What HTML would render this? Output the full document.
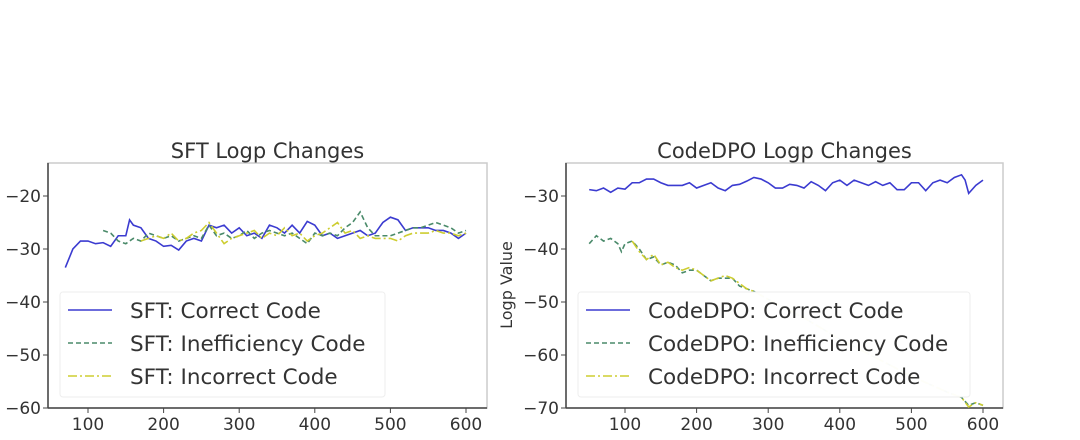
<!DOCTYPE html>
<html><head><meta charset="utf-8"><style>
body{margin:0;background:#fff;width:1080px;height:435px;overflow:hidden;font-family:"Liberation Sans","DejaVu Sans",sans-serif}
svg text{font-family:"DejaVu Sans","Liberation Sans",sans-serif;fill:#333}
</style></head><body>
<svg id="c" width="1080" height="435"></svg>
<script>
const sftX1=[70,80,90,100,110,120,130,140,150,155,160,170,180,190,200,210,220,230,240,250,260,270,280,290,300,310,320,330,340,350,360,370,380,390,400,410,420,430,440,450,460,470,480,490,500,510,520,530,540,550,560,570,580,590,600];
const sftCorrect=[-33.5,-30,-28.5,-28.5,-29,-28.8,-29.5,-27.5,-27.5,-24.5,-25.5,-26,-28,-28.5,-29.5,-29.3,-30.2,-28.5,-28,-28.5,-25.5,-26,-25.5,-27,-26,-27.5,-27,-28,-25.5,-26,-27,-25.5,-27,-24.8,-25.5,-27.5,-27,-28,-27.5,-27,-26.5,-27.5,-27,-25,-24,-24.5,-26.5,-26,-26,-26,-26.5,-26.5,-27,-28,-27];
const sftX2=[120,130,140,150,160,170,180,190,200,210,220,230,240,250,260,270,280,290,300,310,320,330,340,350,360,370,380,390,400,410,420,430,440,450,460,470,480,490,500,510,520,530,540,550,560,570,580,590,600];
const sftIneff=[-26.5,-27,-28.5,-29,-28,-28.5,-27,-27.5,-28,-27.5,-28.5,-28,-27.5,-28,-25.5,-27.5,-27,-28,-27.5,-26.5,-28,-27,-26.5,-27,-27.5,-27,-28,-29,-27,-27.5,-27,-27.5,-26,-25,-23,-26,-27.5,-27.5,-27.5,-27,-26.5,-26,-26,-25.5,-25,-25.5,-26,-27,-26.5];
const sftX3=[170,180,190,200,210,220,230,240,250,260,270,280,290,300,310,320,330,340,350,360,370,380,390,400,410,420,430,440,450,460,470,480,490,500,510,520,530,540,550,560,570,580,590,600];
const sftIncorrect=[-28.5,-28,-27.5,-28,-27,-28.5,-28,-27,-26.5,-25,-27,-29,-28,-27.5,-27,-26.5,-28,-27,-27.5,-26,-27.5,-27,-28.5,-27.5,-27,-26,-25,-27,-26.5,-28,-27.5,-28,-28,-28,-28.5,-27.5,-27,-27,-27,-26.5,-27,-27,-27.5,-27];
const dpoX1=[50,60,70,80,90,100,110,120,130,140,150,160,170,180,190,200,210,220,230,240,250,260,270,280,290,300,310,320,330,340,350,360,370,380,390,400,410,420,430,440,450,460,470,480,490,500,510,520,530,540,550,560,570,575,580,590,600];
const dpoCorrect=[-28.8,-29,-28.5,-29.3,-28.5,-28.7,-27.5,-27.5,-26.8,-26.8,-27.5,-28,-28,-28,-27.5,-28.5,-28,-27.5,-28.5,-29,-28,-27.8,-27.2,-26.5,-26.8,-27.5,-28.5,-28.5,-27.8,-28,-28.5,-27.3,-28,-29,-27.5,-27,-28,-27,-27.5,-28,-27.3,-28,-27.5,-28.8,-28.8,-27.5,-27.5,-29,-27.5,-27,-27.5,-26.5,-26,-27,-29.5,-28,-27];
const dpoX2=[50,60,70,80,90,95,100,110,120,130,140,150,160,170,180,190,200,210,220,230,240,250,260,270,280,300,350,400,450,500,550,570,580,590,600];
const dpoIneff=[-39,-37.5,-38.5,-38,-39,-40.5,-39,-38.5,-40,-42,-41.5,-43,-42.5,-43,-44.5,-44,-44,-45,-46,-45.5,-45.5,-45.5,-47,-47.5,-48,-49.5,-53,-57,-60.5,-64,-67,-68,-69.5,-69,-69.5];
const dpoX3=[110,120,130,140,150,160,170,180,190,200,210,220,230,240,250,260,270,280,300,350,400,450,500,550,570,580,590,600];
const dpoIncorrect=[-38.5,-40.5,-42,-41,-43,-42.5,-43.5,-44,-43.5,-44,-45,-46,-45.5,-45,-45.5,-46.5,-47.5,-48,-49.5,-53,-57,-60.5,-64,-67,-68,-69.8,-69,-69.5];
const xTicks=[100,200,300,400,500,600];
const sftYTicks=[-20,-30,-40,-50,-60];
const dpoYTicks=[-30,-40,-50,-60,-70];

const NS="http://www.w3.org/2000/svg",svg=document.getElementById('c');
function mk(t,a,p){const e=document.createElementNS(NS,t);for(const k in a)e.setAttribute(k,a[k]);(p||svg).appendChild(e);return e;}
function panel(o){
  const g=mk('g',{});
  const sx=v=>o.px0+(v-100)*o.kx, sy=v=>o.py0+(o.y0-v)*5.3;
  mk('rect',{x:o.L,y:163,width:o.R-o.L,height:245,fill:'#fff',stroke:'#ccc','stroke-width':1.5},g);
  mk('line',{x1:o.L,y1:408,x2:o.R,y2:408,stroke:'#444','stroke-width':1.5},g);
  mk('line',{x1:o.L,y1:163,x2:o.L,y2:408,stroke:'#444','stroke-width':1.5},g);
  xTicks.forEach(t=>{const x=sx(t);mk('line',{x1:x,y1:408,x2:x,y2:413,stroke:'#444'},g);
    const tx=mk('text',{x:x,y:430,'font-size':17,'text-anchor':'middle'},g);tx.textContent=t;
    });
  o.yt.forEach(t=>{const y=sy(t);mk('line',{x1:o.L-5,y1:y,x2:o.L,y2:y,stroke:'#444'},g);
    const tx=mk('text',{x:o.L-7,y:y+6,'font-size':17,'text-anchor':'end'},g);tx.textContent='\u2212'+Math.abs(t);
    });
  const tt=mk('text',{x:(o.L+o.R)/2,y:158,'font-size':21,'text-anchor':'middle'},g);tt.textContent=o.title;
  
  const styles=[{c:'#3b3bd0',d:''},{c:'#4a8a6a',d:'5,3'},{c:'#cdcd30',d:'9,3,2,3'}];
  o.series.forEach((s,i)=>{const pts=s.x.map((v,j)=>sx(v)+','+sy(s.y[j])).join(' ');
    const p=mk('polyline',{points:pts,fill:'none',stroke:styles[i].c,'stroke-width':1.6,'stroke-dasharray':styles[i].d},g);
    });
  const lg=mk('g',{},g);
  mk('rect',{x:o.lx,y:292,width:o.lw,height:105,fill:'#fff','fill-opacity':0.97,stroke:'#eee',rx:3},lg);
  o.labels.forEach((l,i)=>{const y=310+i*33;
    mk('line',{x1:o.lx+8,y1:y,x2:o.lx+52,y2:y,stroke:styles[i].c,'stroke-width':1.6,'stroke-dasharray':styles[i].d},lg);
    const t=mk('text',{x:o.lx+70,y:y+8,'font-size':21.5},lg);t.textContent=l;
    });
}
panel({name:'sft-panel',L:48,R:487,px0:88,kx:0.756,py0:196,y0:-20,yt:sftYTicks,title:'SFT Logp Changes',lx:60,lw:325,
  series:[{x:sftX1,y:sftCorrect,n:'sft-correct-line'},{x:sftX2,y:sftIneff,n:'sft-inefficiency-line'},{x:sftX3,y:sftIncorrect,n:'sft-incorrect-line'}],
  labels:['SFT: Correct Code','SFT: Inefficiency Code','SFT: Incorrect Code']});
panel({name:'codedpo-panel',L:566,R:1003,px0:625,kx:0.716,py0:196,y0:-30,yt:dpoYTicks,title:'CodeDPO Logp Changes',lx:578,lw:392,
  series:[{x:dpoX1,y:dpoCorrect,n:'dpo-correct-line'},{x:dpoX2,y:dpoIneff,n:'dpo-inefficiency-line'},{x:dpoX3,y:dpoIncorrect,n:'dpo-incorrect-line'}],
  labels:['CodeDPO: Correct Code','CodeDPO: Inefficiency Code','CodeDPO: Incorrect Code']});
const yl=mk('text',{x:0,y:0,'font-size':16,'text-anchor':'middle',transform:'translate(512,285) rotate(-90)'});
yl.textContent='Logp Value';


</script>
</body></html>
